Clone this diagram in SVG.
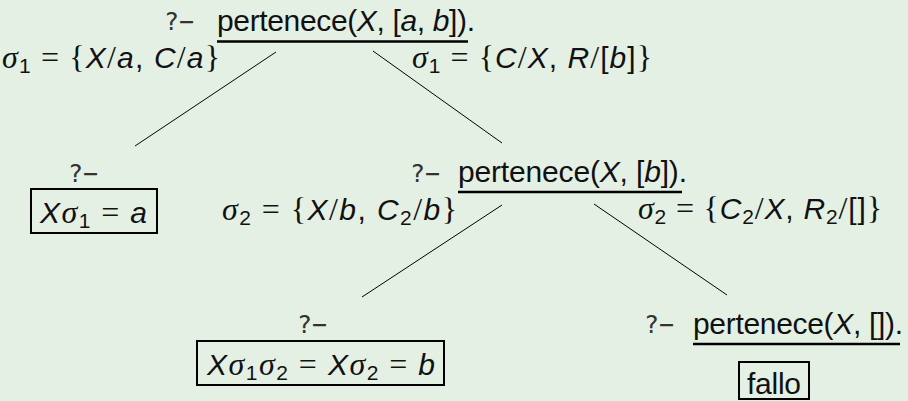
<svg xmlns="http://www.w3.org/2000/svg" width="908" height="401" viewBox="0 0 908 401">
<style>
.t{font-family:"Liberation Sans",Arial,sans-serif;font-size:30px;fill:#111}
.i{font-style:italic}
.m{font-family:"Liberation Serif","Times New Roman",serif;font-size:32px}
.s{font-size:21px}
.q{font-family:"DejaVu Sans Mono","Liberation Mono",monospace;font-size:25px;fill:#333}
.ul{stroke:#000;stroke-width:2.5}
.e{stroke:#000;stroke-width:1;fill:none}
.box{fill:none;stroke:#000;stroke-width:2}
</style>
<rect x="0" y="0" width="908" height="401" fill="#e5f0e4"/>
<g id="edges">
<line class="e" x1="276" y1="52" x2="135" y2="146"/>
<line class="e" x1="373" y1="51" x2="502" y2="143"/>
<line class="e" x1="502" y1="205" x2="362" y2="297"/>
<line class="e" x1="594" y1="204" x2="727" y2="295"/>
</g>
<g id="root">
<text class="q" x="164" y="30">?−</text>
<text class="t" x="217" y="31" textLength="258" lengthAdjust="spacing">pertenece(<tspan class="i">X</tspan>, [<tspan class="i">a</tspan>, <tspan class="i">b</tspan>]).</text>
<line class="ul" x1="217" y1="41.5" x2="468" y2="41.5"/>
</g>
<g id="sigma1-left">
<text class="t" x="2" y="68" textLength="218" lengthAdjust="spacing"><tspan class="m i">σ</tspan><tspan class="s" dy="5">1</tspan><tspan class="m" dy="-5"> = {</tspan><tspan class="i">X</tspan><tspan class="m">/</tspan><tspan class="i">a</tspan>, <tspan class="i">C</tspan><tspan class="m">/</tspan><tspan class="i">a</tspan><tspan class="m">}</tspan></text>
</g>
<g id="sigma1-right">
<text class="t" x="412" y="68" textLength="240" lengthAdjust="spacing"><tspan class="m i">σ</tspan><tspan class="s" dy="5">1</tspan><tspan class="m" dy="-5"> = {</tspan><tspan class="i">C</tspan><tspan class="m">/</tspan><tspan class="i">X</tspan>, <tspan class="i">R</tspan><tspan class="m">/</tspan>[<tspan class="i">b</tspan>]<tspan class="m">}</tspan></text>
</g>
<g id="leaf1">
<text class="q" x="68" y="182">?−</text>
<rect class="box" x="31" y="189" width="126" height="44"/>
<text class="t" x="40" y="223" textLength="107" lengthAdjust="spacing"><tspan class="i">X</tspan><tspan class="m i">σ</tspan><tspan class="s" dy="5">1</tspan><tspan class="m" dy="-5"> = </tspan><tspan class="i">a</tspan></text>
</g>
<g id="node2">
<text class="q" x="410" y="182">?−</text>
<text class="t" x="458" y="182" textLength="229" lengthAdjust="spacing">pertenece(<tspan class="i">X</tspan>, [<tspan class="i">b</tspan>]).</text>
<line class="ul" x1="458" y1="192" x2="682" y2="192"/>
</g>
<g id="sigma2-left">
<text class="t" x="222" y="220" textLength="235" lengthAdjust="spacing"><tspan class="m i">σ</tspan><tspan class="s" dy="5">2</tspan><tspan class="m" dy="-5"> = {</tspan><tspan class="i">X</tspan><tspan class="m">/</tspan><tspan class="i">b</tspan>, <tspan class="i">C</tspan><tspan class="s" dy="5">2</tspan><tspan class="m" dy="-5">/</tspan><tspan class="i">b</tspan><tspan class="m">}</tspan></text>
</g>
<g id="sigma2-right">
<text class="t" x="638" y="219" textLength="244" lengthAdjust="spacing"><tspan class="m i">σ</tspan><tspan class="s" dy="5">2</tspan><tspan class="m" dy="-5"> = {</tspan><tspan class="i">C</tspan><tspan class="s" dy="5">2</tspan><tspan class="m" dy="-5">/</tspan><tspan class="i">X</tspan>, <tspan class="i">R</tspan><tspan class="s" dy="5">2</tspan><tspan class="m" dy="-5">/</tspan>[]<tspan class="m">}</tspan></text>
</g>
<g id="leaf2">
<text class="q" x="297" y="333">?−</text>
<rect class="box" x="197" y="341" width="247" height="44"/>
<text class="t" x="207" y="375" textLength="228" lengthAdjust="spacing"><tspan class="i">X</tspan><tspan class="m i">σ</tspan><tspan class="s" dy="5">1</tspan><tspan class="m i" dy="-5">σ</tspan><tspan class="s" dy="5">2</tspan><tspan class="m" dy="-5"> = </tspan><tspan class="i">X</tspan><tspan class="m i">σ</tspan><tspan class="s" dy="5">2</tspan><tspan class="m" dy="-5"> = </tspan><tspan class="i">b</tspan></text>
</g>
<g id="node3">
<text class="q" x="644" y="333">?−</text>
<text class="t" x="693" y="334" textLength="210" lengthAdjust="spacing">pertenece(<tspan class="i">X</tspan>, []).</text>
<line class="ul" x1="693" y1="344" x2="900" y2="344"/>
</g>
<g id="fail">
<rect class="box" x="739" y="362" width="70" height="37"/>
<text class="t" x="747" y="394" textLength="54" lengthAdjust="spacing">fallo</text>
</g>
</svg>
